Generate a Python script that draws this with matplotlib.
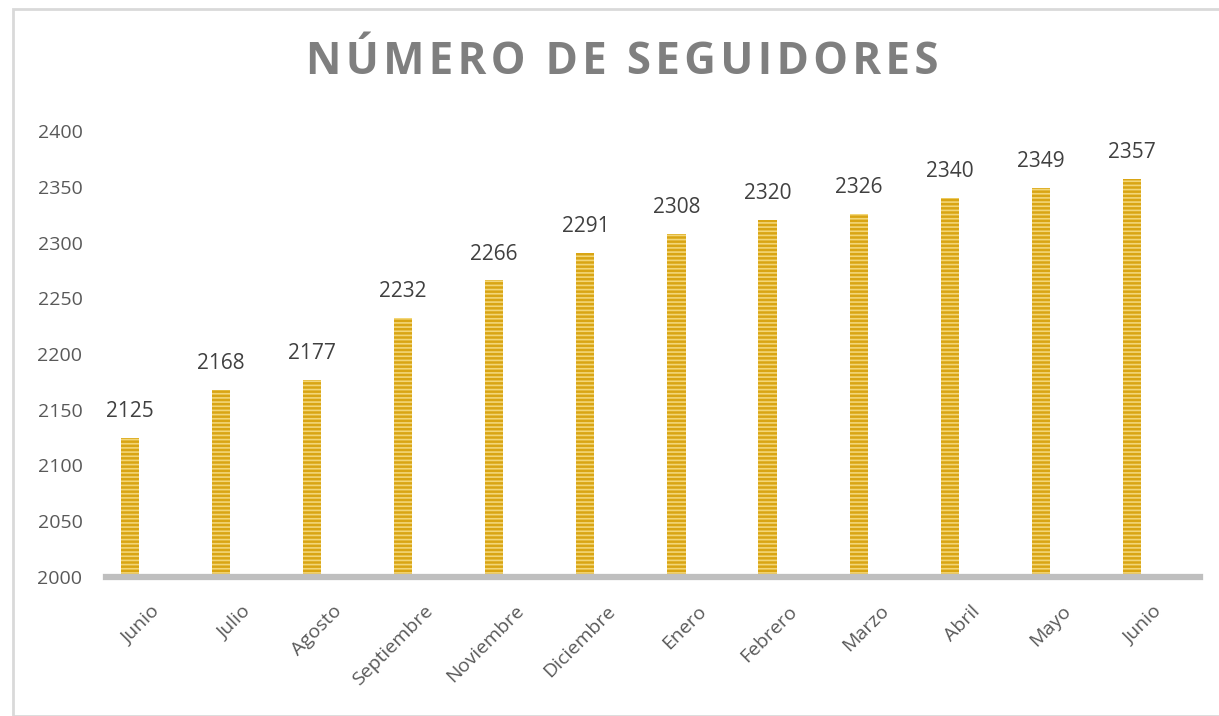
import matplotlib.pyplot as plt
from matplotlib.patches import Rectangle
from matplotlib.transforms import ScaledTranslation

meses = ["Junio", "Julio", "Agosto", "Septiembre", "Noviembre", "Diciembre",
         "Enero", "Febrero", "Marzo", "Abril", "Mayo", "Junio"]
seguidores = [2125, 2168, 2177, 2232, 2266, 2291, 2308, 2320, 2326, 2340, 2349, 2357]

plt.rcParams['font.family'] = ['Open Sans', 'DejaVu Sans']
plt.rcParams['hatch.linewidth'] = 1.2

W, H = 1219, 716
fig = plt.figure(figsize=(W / 100, H / 100), dpi=100)
fig.patches.append(Rectangle((13 / W, 0), 1.5, 1 - 9 / H, transform=fig.transFigure,
                             fill=False, edgecolor="#d9d9d9", linewidth=2))

ax = fig.add_axes([106 / W, (H - 577) / H, (1200 - 106) / W, (577 - 131) / H])

x = list(range(len(meses)))
ax.bar(x, [v - 2000 for v in seguidores], bottom=2000, width=0.2,
       color="#D9A514", edgecolor="#F3D677", linewidth=0, hatch="----")

for xi, v in zip(x, seguidores):
    ax.annotate(str(v), (xi, v), xytext=(0, 19), textcoords="offset points",
                ha="center", va="center", fontsize=15, color="#404040")

ax.set_xlim(-0.26, 11.745)
ax.set_ylim(2000, 2400)
ax.set_yticks(range(2000, 2401, 50))
ax.set_xticks(x)
ax.set_xticklabels(meses, rotation=45, ha="right", rotation_mode="anchor")
ax.tick_params(axis="y", length=0, pad=17, labelsize=14, labelcolor="#595959")
ax.tick_params(axis="x", length=0, pad=18, labelsize=14, labelcolor="#595959")
shift = ScaledTranslation(15 / 72, 0, fig.dpi_scale_trans)
for lbl in ax.get_xticklabels():
    lbl.set_transform(lbl.get_transform() + shift)
for s in ["top", "right", "left"]:
    ax.spines[s].set_visible(False)
ax.spines["bottom"].set_color("#BFBFBF")
ax.spines["bottom"].set_linewidth(4.5)

titulo = "\u200a".join("NÚMERO DE SEGUIDORES")
fig.text(622 / W, 1 - 63 / H, titulo, ha="center", va="center", fontsize=31.5,
         fontweight="bold", color="#7F7F7F")

fig.savefig("out.png", dpi=100)
